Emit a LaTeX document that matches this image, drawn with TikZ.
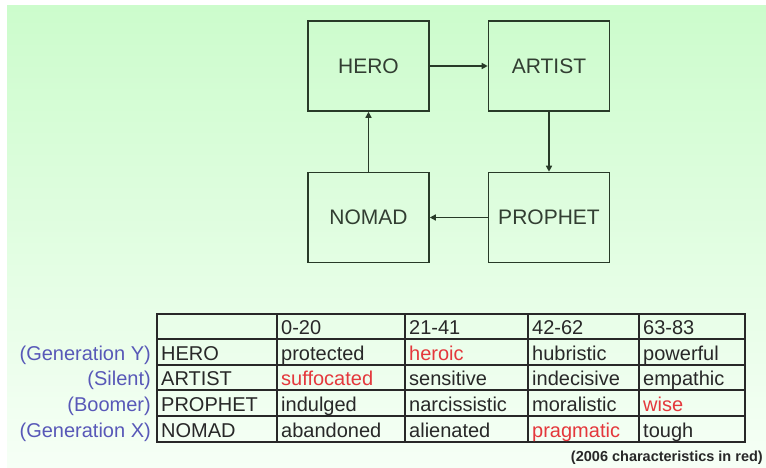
\documentclass[tikz,border=0pt]{standalone}
\usepackage{fontspec}
\setmainfont{Liberation Sans}
\usetikzlibrary{arrows.meta}
\definecolor{bgtop}{RGB}{204,252,204}
\definecolor{bgbot}{RGB}{246,255,246}
\definecolor{boxline}{RGB}{40,58,40}
\definecolor{boxtext}{RGB}{50,62,50}
\definecolor{tabtext}{RGB}{40,40,40}
\definecolor{tabred}{RGB}{228,56,60}
\definecolor{genblue}{RGB}{88,88,184}
\tikzset{
  gbox/.style={draw=boxline, line width=1.6pt, minimum width=121pt, minimum height=90pt, inner sep=0pt, font=\fontsize{21}{25}\selectfont, text=boxtext},
  conn/.style={draw=boxline, line width=1.6pt, -{Triangle[length=6pt,width=6pt]}},
  tabline/.style={draw=tabtext, line width=1.3pt},
  cell/.style={anchor=base west, inner sep=0pt, font=\fontsize{20}{24}\selectfont, text=tabtext},
  redcell/.style={cell, text=tabred},
  gen/.style={anchor=base east, inner sep=0pt, font=\fontsize{20}{24}\selectfont, text=genblue},
  note/.style={anchor=base east, inner sep=0pt, font=\bfseries\fontsize{14.5}{17}\selectfont, text=tabtext}
}
\begin{document}
\begin{tikzpicture}[x=1pt,y=-1pt]
\useasboundingbox (0,0) rectangle (766,468);
\fill[white] (0,0) rectangle (766,468);
\shade[top color=bgtop,bottom color=bgbot] (7,6) rectangle (766,468);
% cycle boxes
\node[gbox] (hero) at (368.5,66) {HERO};
\node[gbox] (artist) at (549,66) {ARTIST};
\node[gbox] (nomad) at (368.5,217.5) {NOMAD};
\node[gbox] (prophet) at (549,217.5) {PROPHET};
\draw[conn] (hero) -- (artist);
\draw[conn] (artist) -- (prophet);
\draw[conn] (prophet) -- (nomad);
\draw[conn] (nomad) -- (hero);
% table grid
\draw[tabline] (157,314) rectangle (745,442);
\foreach \yy in {339,365,390,416} \draw[tabline] (157,\yy) -- (745,\yy);
\foreach \xx in {277,405,528,639} \draw[tabline] (\xx,314) -- (\xx,442);
% header
\node[cell] (c01) at (281,334) {0-20};
\node[cell] (c02) at (409,334) {21-41};
\node[cell] (c03) at (532,334) {42-62};
\node[cell] (c04) at (643,334) {63-83};
% HERO row
\node[gen] (g1) at (151,360) {(Generation Y)};
\node[cell] (c10) at (161,360) {HERO};
\node[cell] (c11) at (281,360) {protected};
\node[redcell] (c12) at (409,360) {heroic};
\node[cell] (c13) at (532,360) {hubristic};
\node[cell] (c14) at (643,360) {powerful};
% ARTIST row
\node[gen] (g2) at (151,385) {(Silent)};
\node[cell] (c20) at (161,385) {ARTIST};
\node[redcell] (c21) at (281,385) {suffocated};
\node[cell] (c22) at (409,385) {sensitive};
\node[cell] (c23) at (532,385) {indecisive};
\node[cell] (c24) at (643,385) {empathic};
% PROPHET row
\node[gen] (g3) at (151,411) {(Boomer)};
\node[cell] (c30) at (161,411) {PROPHET};
\node[cell] (c31) at (281,411) {indulged};
\node[cell] (c32) at (409,411) {narcissistic};
\node[cell] (c33) at (532,411) {moralistic};
\node[redcell] (c34) at (643,411) {wise};
% NOMAD row
\node[gen] (g4) at (151,437) {(Generation X)};
\node[cell] (c40) at (161,437) {NOMAD};
\node[cell] (c41) at (281,437) {abandoned};
\node[cell] (c42) at (409,437) {alienated};
\node[redcell] (c43) at (532,437) {pragmatic};
\node[cell] (c44) at (643,437) {tough};
% footnote
\node[note] (fn) at (763,461) {(2006 characteristics in red)};
\end{tikzpicture}
\end{document}
